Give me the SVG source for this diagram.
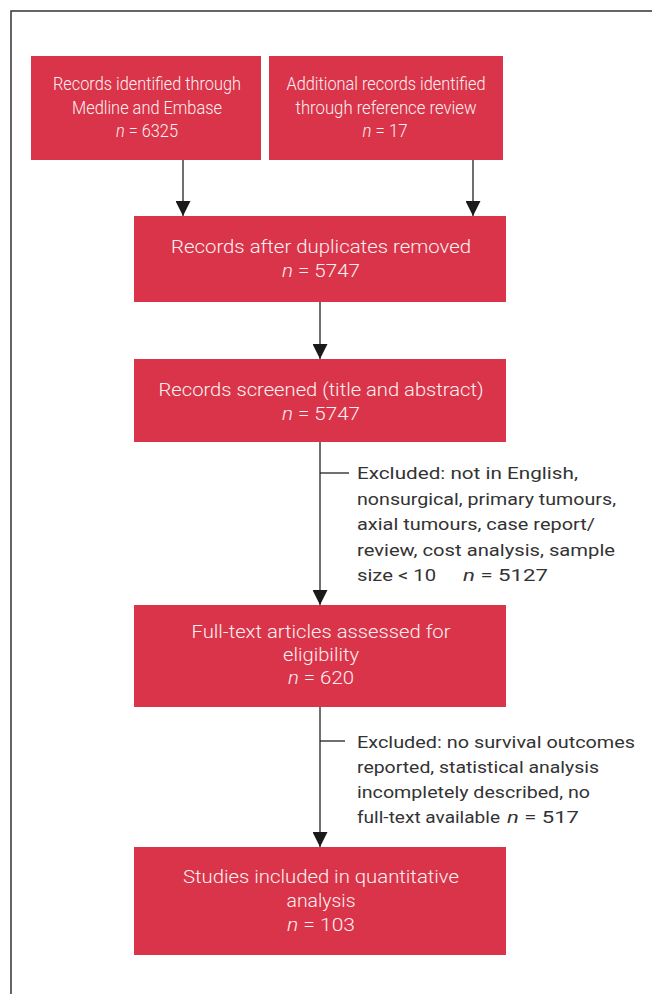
<svg xmlns="http://www.w3.org/2000/svg" width="652" height="994" viewBox="0 0 652 994">
<style>
.box{fill:#d93449}
.bt{font-family:Roboto,"Liberation Sans",sans-serif;font-weight:300;font-size:19px;fill:#fdf0f2;text-anchor:middle}
.ex{font-family:Roboto,"Liberation Sans",sans-serif;font-weight:400;font-size:16.5px;fill:#333}
.ln{stroke:#222;stroke-width:1.3;fill:none}
.it{font-style:italic}
</style>
<defs>
<marker id="tri" markerUnits="userSpaceOnUse" markerWidth="15" markerHeight="15" viewBox="0 0 15 15" refX="15" refY="7.5" orient="auto">
<path d="M0,0 L15,7.5 L0,15 Z" fill="#1a1a1a"/>
</marker>
</defs>
<polyline points="11,994 11,11 652,11" fill="none" stroke="#333" stroke-width="1.5"/>
<g id="connectors">
<line class="ln" x1="183" y1="160" x2="183" y2="216" marker-end="url(#tri)"/>
<line class="ln" x1="473" y1="160" x2="473" y2="216" marker-end="url(#tri)" stroke="#555"/>
<line class="ln" x1="320" y1="302" x2="320" y2="359" marker-end="url(#tri)"/>
<line class="ln" x1="320" y1="442" x2="320" y2="605" marker-end="url(#tri)"/>
<line class="ln" x1="320" y1="473" x2="349" y2="473"/>
<line class="ln" x1="320" y1="707" x2="320" y2="847" marker-end="url(#tri)"/>
<line class="ln" x1="320" y1="741" x2="345" y2="741"/>
</g>
<g id="n1">
<rect class="box" x="31" y="56" width="230" height="104"/>
<text class="bt" x="147" y="90" textLength="188" lengthAdjust="spacingAndGlyphs">Records identified through</text>
<text class="bt" x="147" y="114" textLength="150" lengthAdjust="spacingAndGlyphs">Medline and Embase</text>
<text class="bt" x="147" y="137" textLength="62" lengthAdjust="spacingAndGlyphs"><tspan class="it">n</tspan> = 6325</text>
</g>
<g id="n2">
<rect class="box" x="269" y="56" width="234" height="104"/>
<text class="bt" x="386" y="90" textLength="199" lengthAdjust="spacingAndGlyphs">Additional records identified</text>
<text class="bt" x="386" y="114" textLength="181" lengthAdjust="spacingAndGlyphs">through reference review</text>
<text class="bt" x="385" y="137" textLength="45" lengthAdjust="spacingAndGlyphs"><tspan class="it">n</tspan> = 17</text>
</g>
<g id="n3">
<rect class="box" x="134" y="216" width="372" height="86"/>
<text class="bt" x="321" y="253" textLength="300" lengthAdjust="spacingAndGlyphs">Records after duplicates removed</text>
<text class="bt" x="321" y="277" textLength="78" lengthAdjust="spacingAndGlyphs"><tspan class="it">n</tspan> = 5747</text>
</g>
<g id="n4">
<rect class="box" x="134" y="359" width="372" height="83"/>
<text class="bt" x="321" y="396" textLength="325" lengthAdjust="spacingAndGlyphs">Records screened (title and abstract)</text>
<text class="bt" x="321" y="420" textLength="78" lengthAdjust="spacingAndGlyphs"><tspan class="it">n</tspan> = 5747</text>
</g>
<g id="x1">
<text class="ex" x="357" y="479" textLength="221" lengthAdjust="spacingAndGlyphs">Excluded: not in English,</text>
<text class="ex" x="357" y="504.5" textLength="259" lengthAdjust="spacingAndGlyphs">nonsurgical, primary tumours,</text>
<text class="ex" x="357" y="530" textLength="238" lengthAdjust="spacingAndGlyphs">axial tumours, case report/</text>
<text class="ex" x="357" y="555.5" textLength="258" lengthAdjust="spacingAndGlyphs">review, cost analysis, sample</text>
<text class="ex" x="357" y="581" textLength="79" lengthAdjust="spacingAndGlyphs">size &lt; 10</text>
<text class="ex" x="463" y="581" textLength="85" lengthAdjust="spacingAndGlyphs"><tspan class="it">n</tspan> = 5127</text>
</g>
<g id="n5">
<rect class="box" x="134" y="605" width="372" height="102"/>
<text class="bt" x="321" y="638" textLength="259" lengthAdjust="spacingAndGlyphs">Full-text articles assessed for</text>
<text class="bt" x="321" y="661" textLength="76" lengthAdjust="spacingAndGlyphs">eligibility</text>
<text class="bt" x="321" y="684" textLength="66" lengthAdjust="spacingAndGlyphs"><tspan class="it">n</tspan> = 620</text>
</g>
<g id="x2">
<text class="ex" x="357" y="748" textLength="278" lengthAdjust="spacingAndGlyphs">Excluded: no survival outcomes</text>
<text class="ex" x="357" y="773" textLength="242" lengthAdjust="spacingAndGlyphs">reported, statistical analysis</text>
<text class="ex" x="357" y="798" textLength="233" lengthAdjust="spacingAndGlyphs">incompletely described, no</text>
<text class="ex" x="357" y="823" textLength="143" lengthAdjust="spacingAndGlyphs">full-text available</text>
<text class="ex" x="507" y="823" textLength="72" lengthAdjust="spacingAndGlyphs"><tspan class="it">n</tspan> = 517</text>
</g>
<g id="n6">
<rect class="box" x="134" y="847" width="372" height="108"/>
<text class="bt" x="321" y="883" textLength="276" lengthAdjust="spacingAndGlyphs">Studies included in quantitative</text>
<text class="bt" x="321" y="907" textLength="69" lengthAdjust="spacingAndGlyphs">analysis</text>
<text class="bt" x="321" y="931" textLength="68" lengthAdjust="spacingAndGlyphs"><tspan class="it">n</tspan> = 103</text>
</g>
</svg>
